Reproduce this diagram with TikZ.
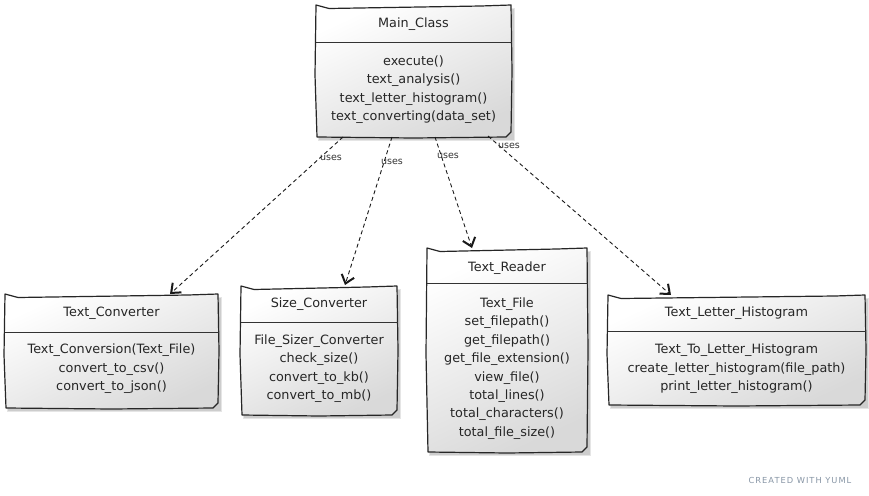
\documentclass[tikz,border=0pt]{standalone}
\usepackage{fontspec}
\setmainfont{DejaVu Sans}
\usetikzlibrary{arrows.meta}
\newcommand\umlbox[6]{%
  \fill[black,opacity=0.10] ({#2+2},{#3+3}) -- ({#4+4},{#3+3}) -- ({#4+4},{#5+4}) -- ({#2+2},{#5+4}) -- cycle;
  \fill[black,opacity=0.10] ({#2+3},{#3+4}) -- ({#4+3},{#3+4}) -- ({#4+3},{#5+3}) -- ({#2+3},{#5+3}) -- cycle;
  \shadedraw[umlline,umlshade] (#2,#3) -- ({#2+13},{#3+3.5}) -- ({#4-30},{#3+1}) -- (#4,#3)
    -- ({#4+1},{(#3+#5)/2}) -- ({#4},{#5-5}) -- ({#4-5},{#5}) -- ({(#2+#4)/2},{#5+1}) -- ({#2+1},{#5})
    -- ({#2-1},{(#3+#5)/2+4}) -- cycle;
  \draw[umlsep] ({#2-0.5},#6) -- ({#4+0.5},#6);
  \coordinate (#1) at ({(#2+#4)/2},{(#3+#5)/2});
}
\tikzset{
  umlline/.style={draw=black!85,line width=1.2pt,line join=round},
  umlsep/.style={draw=black!80,line width=0.9pt},
  umlshade/.style={shading=axis,top color=white,bottom color=black!15,shading angle=25},
  umltext/.style={font=\fontsize{12.8}{18.4}\selectfont,text=black!85,align=center,inner sep=0pt},
  uses/.style={font=\fontsize{9.5}{11}\selectfont,text=black!80,inner sep=0pt},
  dep/.style={draw=black!90,line width=0.9pt,dash pattern=on 4pt off 3pt,
    -{Straight Barb[length=8pt,width=13pt,line width=2pt]}},
}
\begin{document}
\begin{tikzpicture}[x=1pt,y=-1pt]
\useasboundingbox[fill=white] (0,0) rectangle (869,495);
% boxes
\umlbox{mainbox}{316}{5}{511}{137}{42}
\umlbox{tcbox}{5}{294}{218}{408}{332}
\umlbox{scbox}{241}{286}{397}{415}{322}
\umlbox{trbox}{427}{248}{587}{452}{283}
\umlbox{tlhbox}{608}{295}{865}{405}{331}
% texts
\node[umltext] (maint) at (413.5,24.5) {Main\_Class};
\node[umltext] (mainb) at (413.5,89.5) {execute()\\text\_analysis()\\text\_letter\_histogram()\\text\_converting(data\_set)};
\node[umltext] (tct) at (111.5,313) {Text\_Converter};
\node[umltext] (tcb) at (111.5,369) {Text\_Conversion(Text\_File)\\convert\_to\_csv()\\convert\_to\_json()};
\node[umltext] (sct) at (319,304) {Size\_Converter};
\node[umltext] (scb) at (319,368.5) {File\_Sizer\_Converter\\check\_size()\\convert\_to\_kb()\\convert\_to\_mb()};
\node[umltext] (trt) at (507,268) {Text\_Reader};
\node[umltext] (trb) at (507,368.5) {Text\_File\\set\_filepath()\\get\_filepath()\\get\_file\_extension()\\view\_file()\\total\_lines()\\total\_characters()\\total\_file\_size()};
\node[umltext] (tlht) at (736.5,313) {Text\_Letter\_Histogram};
\node[umltext] (tlhb) at (736.5,369) {Text\_To\_Letter\_Histogram\\create\_letter\_histogram(file\_path)\\print\_letter\_histogram()};
% connector ends
\coordinate (s1) at (343,137);
\coordinate (e1) at (170,294);
\coordinate (s2) at (392,137);
\coordinate (e2) at (345,285);
\coordinate (s3) at (435,137);
\coordinate (e3) at (472,248);
\coordinate (s4) at (488,136);
\coordinate (e4) at (671,295);
\draw[dep] (s1) -- (e1);
\draw[dep] (s2) -- (e2);
\draw[dep] (s3) -- (e3);
\draw[dep] (s4) -- (e4);
\node[uses] (u1) at (331,158) {uses};
\node[uses] (u2) at (392,162) {uses};
\node[uses] (u3) at (448,156) {uses};
\node[uses] (u4) at (509,146) {uses};
\node[font=\fontsize{8.3}{10}\selectfont\addfontfeature{LetterSpace=12},text={rgb,255:red,136;green,150;blue,166},inner sep=0pt] (yuml) at (800,480) {CREATED WITH YUML};
\end{tikzpicture}
\end{document}
